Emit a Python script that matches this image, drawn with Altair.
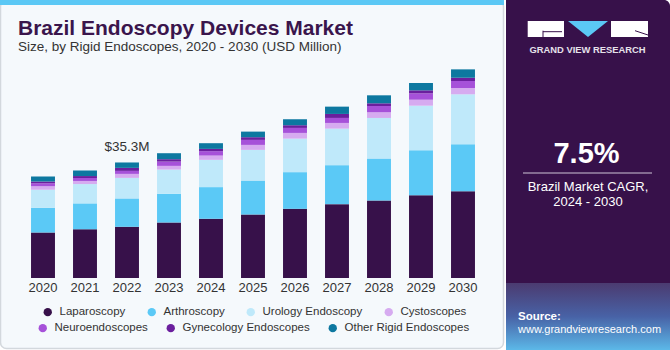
import altair as alt
import pandas as pd

# ---------------- data (USD Million) ----------------
years = ["2020", "2021", "2022", "2023", "2024", "2025", "2026", "2027", "2028", "2029", "2030"]
laparoscopy = [13.9, 14.9, 15.65, 16.96, 18.1, 19.4, 21.14, 22.57, 23.67, 25.32, 26.54]
arthroscopy = [7.6, 7.9, 8.66, 8.76, 9.67, 10.37, 11.2, 11.9, 12.81, 13.73, 14.34]
urology = [5.5, 5.9, 6.28, 7.41, 8.33, 9.37, 10.25, 11.17, 12.42, 13.6, 15.25]
cystoscopes = [1.05, 0.95, 1.22, 1.13, 1.31, 1.53, 1.74, 1.74, 1.74, 1.83, 1.92]
neuroendoscopes = [0.9, 0.9, 0.92, 1.31, 1.34, 1.53, 1.53, 1.53, 1.92, 1.95, 2.14]
gynecology = [0.5, 0.6, 0.92, 0.73, 0.7, 0.82, 0.82, 1.22, 0.82, 0.92, 1.0]
other_rigid = [1.6, 1.7, 1.65, 1.83, 1.74, 1.71, 1.83, 2.23, 2.44, 2.23, 2.56]

series_names = ["Laparoscopy", "Arthroscopy", "Urology Endoscopy", "Cystoscopes",
                "Neuroendoscopes", "Gynecology Endoscopes", "Other Rigid Endoscopes"]
series_values = [laparoscopy, arthroscopy, urology, cystoscopes,
                 neuroendoscopes, gynecology, other_rigid]
series_colors = ["#37114a", "#5bc9f6", "#bfe9fa", "#d6abf0", "#a651d9", "#6b1f9e", "#0d78a0"]
legend_row1 = 4  # first four series in the first legend row

annot_year = "2022"
annot_label = "$35.3M"

title_text = "Brazil Endoscopy Devices Market"
subtitle_text = "Size, by Rigid Endoscopes, 2020 - 2030 (USD Million)"
cagr_value = "7.5%"
cagr_line1 = "Brazil Market CAGR,"
cagr_line2 = "2024 - 2030"
brand_text = "GRAND VIEW RESEARCH"
source_label = "Source:"
source_url = "www.grandviewresearch.com"

FONT = "Liberation Sans"

# ---------------- tables (stack computed per year) ----------------
rows = []
base = [0.0] * len(years)
for i, (name, vals) in enumerate(zip(series_names, series_values)):
    for j, (y, v) in enumerate(zip(years, vals)):
        rows.append({"Year": y, "Segment": name, "Start": base[j], "End": base[j] + v,
                     "Group": 0 if i < legend_row1 else 1})
        base[j] += v
df = pd.DataFrame(rows)
df_a = df[df.Group == 0].copy()
df_b = df[df.Group == 1].rename(columns={"Segment": "Segment2"}).copy()

idx = years.index(annot_year)
annot_df = pd.DataFrame({"Year": [annot_year],
                         "Total": [sum(s[idx] for s in series_values)],
                         "Label": [annot_label]})

one = pd.DataFrame({"k": [0]})

x_scale = alt.Scale(domain=years, paddingInner=0.43, paddingOuter=0.215)
y_scale = alt.Scale(domain=[0, 66])

# ---------------- decoration ----------------
def rect(x, x2, y, y2, **kw):
    return alt.Chart(one).mark_rect(**kw).encode(
        x=alt.value(x), x2=alt.value(x2), y=alt.value(y), y2=alt.value(y2))

def text(x, y, s, **kw):
    return alt.Chart(one).mark_text(font=FONT, **kw).encode(
        x=alt.value(x), y=alt.value(y), text=alt.value(s))

def rule(x, x2, y, y2, **kw):
    return alt.Chart(one).mark_rule(**kw).encode(
        x=alt.value(x), x2=alt.value(x2), y=alt.value(y), y2=alt.value(y2))

left_box = rect(-21.5, 481.5, -61.5, 286.5, fill="#f5f9fc", stroke="#d3d8dd",
                strokeWidth=1.5, cornerRadius=6)
top_stripe = rect(-22, 482, -62, -57, fill="#5bc8f5")
panel = rect(484, 648, -62, 288, fill="#37114a", cornerRadiusTopRight=6)
panel_grad = rect(484, 648, 221, 288, fill=alt.Gradient(
    gradient="linear", x1=0, x2=0, y1=0, y2=1,
    stops=[alt.GradientStop(offset=0, color="#4b3b70"),
           alt.GradientStop(offset=0.5, color="#4862a6"),
           alt.GradientStop(offset=1, color="#5cb8e8")]))

logo_left = rect(505.7, 542, -41, -25, fill="white")
logo_right = rect(589, 626, -41, -25, fill="white")
logo_tri = alt.Chart(one).mark_point(
    shape="M-1,-0.4L1,-0.4L0,0.4Z", size=1600, filled=True, opacity=1,
    color="#5bc8f5", strokeWidth=0).encode(x=alt.value(566), y=alt.value(-33))
logo_g1 = rule(521, 540, -30.3, -30.3, color="#37114a", strokeWidth=1)
logo_g2 = rule(521, 521, -31.3, -25, color="#37114a", strokeWidth=1)
logo_e = rule(613, 626, -31.3, -27, color="#37114a", strokeWidth=1)
brand = text(565.5, -9, brand_text, fontSize=9.4, fontWeight="bold", color="#e6e1ea",
             align="center", baseline="alphabetic")

title = text(-4, -27, title_text, fontSize=21, fontWeight="bold", color="#3a154c",
             align="left", baseline="alphabetic")
subtitle = text(-4, -11, subtitle_text, fontSize=13.5, color="#333333",
                align="left", baseline="alphabetic")

cagr = text(564.5, 101, cagr_value, fontSize=29, fontWeight="bold", color="white",
            align="center", baseline="alphabetic")
cagr_rule = rule(501, 630, 111, 111, color="#cfc6d6", strokeWidth=1)
cagr_t1 = text(566, 129, cagr_line1, fontSize=13, color="white",
               align="center", baseline="alphabetic")
cagr_t2 = text(566, 144, cagr_line2, fontSize=13, color="white",
               align="center", baseline="alphabetic")
src1 = text(496, 258, source_label, fontSize=11.5, fontWeight="bold", color="white",
            align="left", baseline="alphabetic")
src2 = text(496, 271, source_url, fontSize=11, color="white",
            align="left", baseline="alphabetic")

# ---------------- data marks ----------------
def legend(x, y, pad):
    return alt.Legend(title=None, orient="none", legendX=x, legendY=y,
                      direction="horizontal", symbolType="circle",
                      symbolSize=70, symbolStrokeWidth=0,
                      labelFontSize=11.5, labelColor="#333333",
                      labelFont=FONT, columnPadding=pad, labelOffset=6, zindex=2)

x_enc = alt.X("Year:N", scale=x_scale, sort=years,
              axis=alt.Axis(title=None, labelAngle=0, ticks=False, domain=False,
                            labelPadding=3, labelFontSize=13, labelColor="#333333",
                            labelFont=FONT, zindex=2))

bars_a = alt.Chart(df_a).mark_bar().encode(
    x=x_enc,
    y=alt.Y("Start:Q", scale=y_scale, axis=None),
    y2="End:Q",
    color=alt.Color("Segment:N",
                    scale=alt.Scale(domain=series_names[:legend_row1],
                                    range=series_colors[:legend_row1]),
                    legend=legend(20, 244, 20)),
)
bars_b = alt.Chart(df_b).mark_bar().encode(
    x=alt.X("Year:N", scale=x_scale, sort=years),
    y=alt.Y("Start:Q", scale=y_scale, axis=None),
    y2="End:Q",
    fill=alt.Fill("Segment2:N",
                  scale=alt.Scale(domain=series_names[legend_row1:],
                                  range=series_colors[legend_row1:]),
                  legend=legend(15, 260, 17)),
)

annot = alt.Chart(annot_df).mark_text(font=FONT, fontSize=13.5, color="#333333",
                                      dy=-15, baseline="middle").encode(
    x=alt.X("Year:N", scale=x_scale, sort=years),
    y=alt.Y("Total:Q", scale=y_scale),
    text="Label:N",
)

chart = alt.layer(
    left_box, top_stripe, panel, panel_grad,
    logo_left, logo_right, logo_tri, logo_g1, logo_g2, logo_e, brand,
    bars_a, bars_b, annot,
    title, subtitle, cagr, cagr_rule, cagr_t1, cagr_t2, src1, src2,
).resolve_scale(color="independent", fill="independent").properties(
    width=462, height=216,
    autosize=alt.AutoSizeParams(type="none"),
    padding={"left": 22, "top": 62, "right": 186, "bottom": 72},
    background="white",
).configure_view(stroke=None).configure(font=FONT)

chart.save("out.html", embed_options={"renderer": "svg", "actions": False})
